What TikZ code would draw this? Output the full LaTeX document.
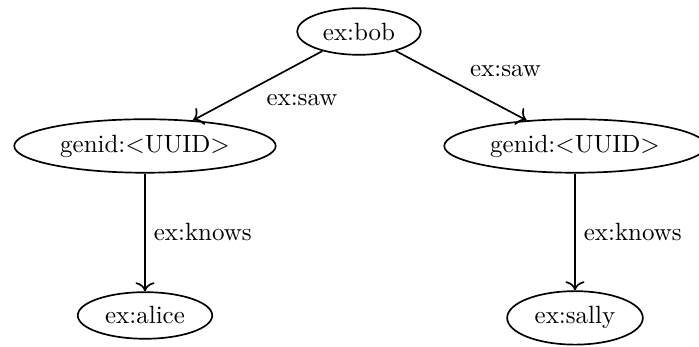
\documentclass[tikz,border=0pt]{standalone}
\usetikzlibrary{shapes.geometric, arrows.meta}
\begin{document}
\begin{tikzpicture}[x=0.41667pt, y=-0.41667pt,
  font=\fontsize{10.4pt}{12.5pt}\selectfont,
  term/.style={ellipse, draw, line width=0.7pt, inner sep=0.32em},
  rel/.style={-{To[scale=1.2]}, line width=0.7pt}]
\useasboundingbox (0,0) rectangle (699,347);
\node[term] (bob) at (359,31.5) {ex:bob};
\node[term] (g1) at (145,146) {genid:<UUID>};
\node[term] (g2) at (575,146) {genid:<UUID>};
\node[term, anchor=base] (alice) at (145,324) {ex:alice};
\node[term, anchor=base] (sally) at (575,324) {ex:sally};
\draw[rel] (bob) -- node[below right] {ex:saw} (g1);
\draw[rel] (bob) -- node[above right] {ex:saw} (g2);
\draw[rel] (g1) -- node[right] {ex:knows} (alice);
\draw[rel] (g2) -- node[right] {ex:knows} (sally);
\end{tikzpicture}
\end{document}
